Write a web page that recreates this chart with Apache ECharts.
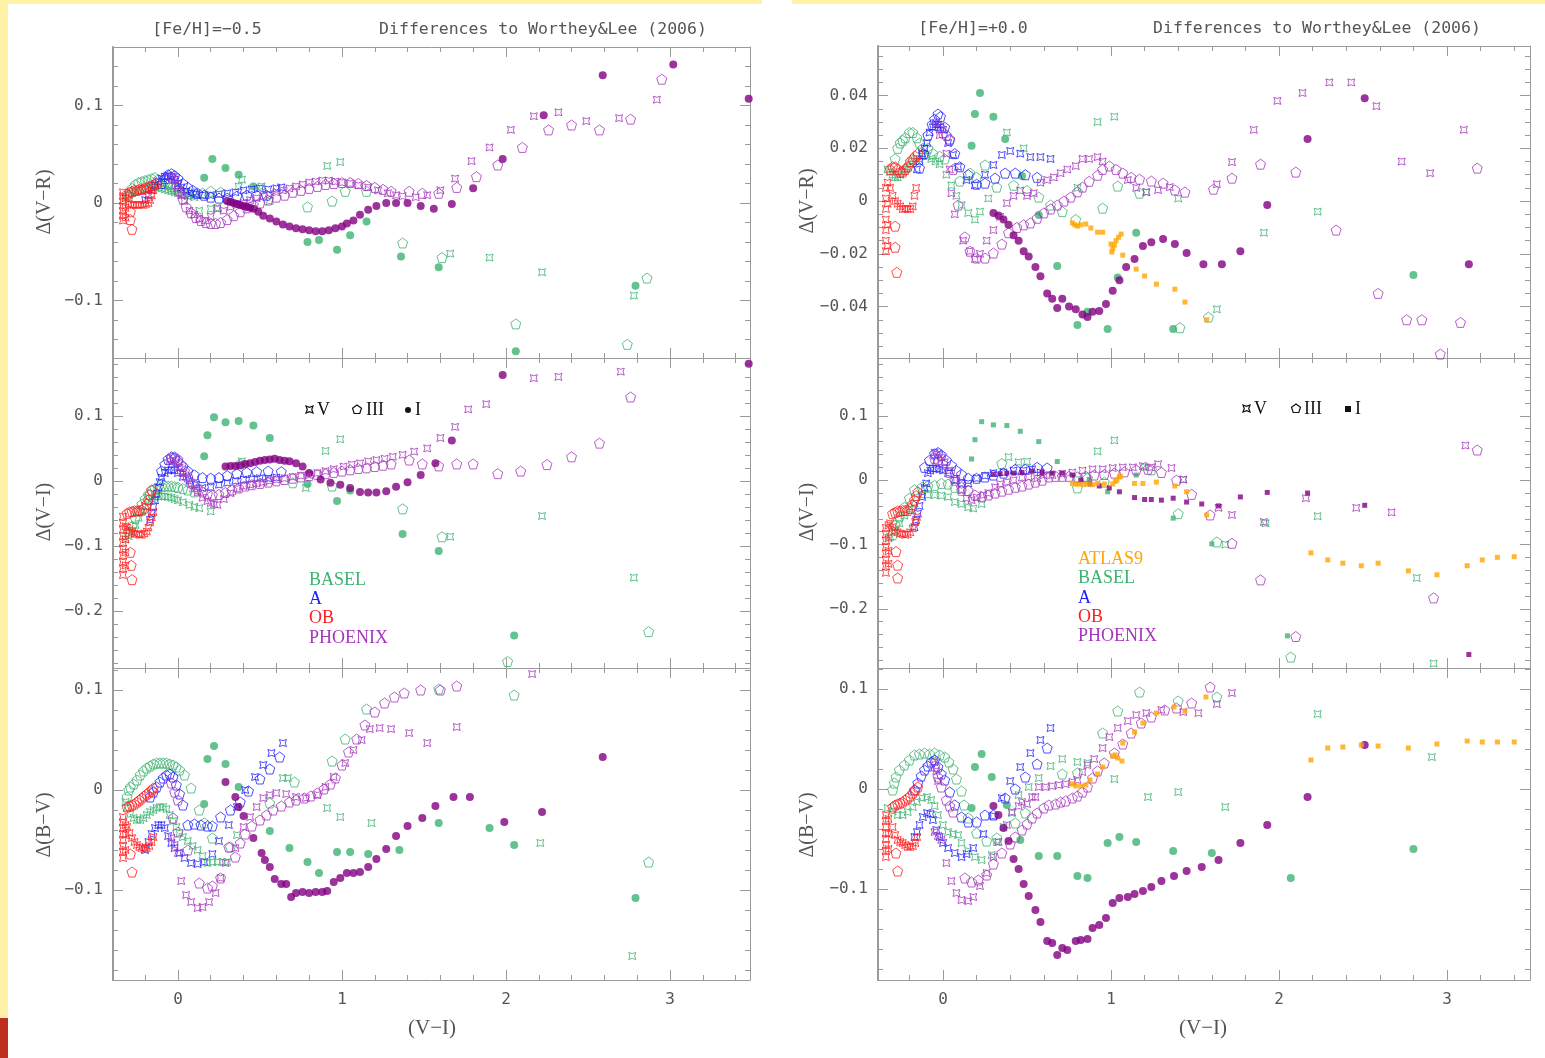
<!DOCTYPE html>
<html><head><meta charset="utf-8">
<script src="https://cdn.jsdelivr.net/npm/echarts@6/dist/echarts.min.js"></script>
<style>html,body{margin:0;padding:0;background:#fff}#c{width:1545px;height:1058px}</style>
</head><body><div id="c"></div>
<script>
// ===== DATA (x = V-I, y = difference) =====
// Panel 1: [Fe/H]=-0.5, Δ(V-R)
const P1_OB_V=[[-0.335,-0.018],[-0.335,-0.013],[-0.335,-0.008],[-0.335,-0.003],[-0.335,0.002],[-0.335,0.007],[-0.335,0.011],[-0.32,-0.015],[-0.32,-0.005],[-0.32,0.005],[-0.30,-0.001],[-0.285,-0.002],[-0.27,-0.002],[-0.255,-0.002],[-0.24,-0.002],[-0.225,-0.002],[-0.21,-0.002],[-0.195,-0.001],[-0.18,0.0],[-0.17,0.003],[-0.16,0.008],[-0.15,0.013]];
const P1_OB_III=[[-0.31,0.009],[-0.295,0.011],[-0.28,0.012],[-0.265,0.013],[-0.25,0.013],[-0.235,0.014],[-0.22,0.014],[-0.205,0.015],[-0.19,0.016],[-0.175,0.017],[-0.16,0.018],[-0.145,0.019],[-0.13,0.02],[-0.29,-0.009],[-0.29,-0.017],[-0.28,-0.027]];
const P1_A_V=[[-0.2,0.003],[-0.18,0.008],[-0.16,0.013],[-0.14,0.018],[-0.12,0.022],[-0.1,0.025],[-0.08,0.027],[-0.06,0.028],[-0.04,0.027],[-0.02,0.024],[0.0,0.02],[0.02,0.016],[0.05,0.012],[0.08,0.01],[0.11,0.009],[0.15,0.008],[0.2,0.008],[0.25,0.009],[0.3,0.01],[0.35,0.011],[0.4,0.013],[0.45,0.014],[0.5,0.015],[0.55,0.014],[0.6,0.015],[0.63,0.016]];
const P1_A_III=[[-0.1,0.02],[-0.08,0.025],[-0.06,0.029],[-0.04,0.03],[-0.02,0.028],[0.0,0.025],[0.03,0.02],[0.06,0.016],[0.09,0.013],[0.12,0.01],[0.16,0.008],[0.2,0.006],[0.25,0.005],[0.3,0.005],[0.36,0.007],[0.42,0.008],[0.48,0.008],[0.54,0.008]];
const P1_BA_III=[[-0.3,0.008],[-0.28,0.015],[-0.26,0.019],[-0.24,0.021],[-0.22,0.022],[-0.2,0.023],[-0.18,0.024],[-0.16,0.025],[-0.14,0.026],[-0.12,0.024],[-0.1,0.022],[-0.08,0.02],[-0.06,0.019],[-0.04,0.017],[-0.02,0.015],[0.0,0.013],[0.03,0.011],[0.06,0.01],[0.1,0.01],[0.15,0.01],[0.2,0.012],[0.26,0.011],[0.79,-0.004],[0.94,0.002],[1.02,0.012],[1.15,0.012],[1.37,-0.041],[1.61,-0.056],[2.06,-0.124],[2.74,-0.145],[2.86,-0.077]];
const P1_BA_V=[[-0.32,0.005],[-0.3,0.008],[-0.28,0.01],[-0.26,0.012],[-0.24,0.013],[-0.22,0.013],[-0.2,0.014],[-0.18,0.015],[-0.16,0.016],[-0.14,0.016],[-0.12,0.016],[-0.1,0.015],[-0.08,0.014],[-0.06,0.013],[-0.04,0.012],[-0.02,0.011],[0.0,0.01],[0.03,0.008],[0.06,0.007],[0.1,0.006],[0.13,-0.008],[0.2,-0.006],[0.24,-0.005],[0.37,0.017],[0.39,0.024],[0.51,0.017],[0.56,0.002],[0.91,0.038],[0.99,0.042],[1.66,-0.052],[1.90,-0.056],[2.22,-0.071],[2.78,-0.095]];
const P1_BA_I=[[0.16,0.026],[0.21,0.045],[0.29,0.036],[0.37,0.029],[0.46,0.017],[0.79,-0.04],[0.86,-0.038],[0.97,-0.048],[1.05,-0.033],[1.15,-0.019],[1.36,-0.055],[1.59,-0.066],[2.06,-0.152],[2.79,-0.085]];
const P1_PH_V=[[-0.04,0.027],[-0.02,0.024],[0.0,0.015],[0.02,0.008],[0.04,0.002],[0.07,-0.008],[0.1,-0.012],[0.13,-0.016],[0.17,-0.018],[0.2,-0.014],[0.24,-0.006],[0.28,-0.008],[0.32,-0.004],[0.36,-0.002],[0.4,0.0],[0.44,0.003],[0.48,0.005],[0.52,0.007],[0.56,0.009],[0.6,0.011],[0.64,0.013],[0.68,0.015],[0.72,0.017],[0.76,0.019],[0.8,0.021],[0.84,0.022],[0.88,0.023],[0.92,0.023],[0.96,0.022],[1.0,0.021],[1.05,0.02],[1.1,0.018],[1.16,0.016],[1.22,0.013],[1.28,0.01],[1.33,0.008],[1.37,0.007],[1.45,0.006],[1.52,0.008],[1.60,0.013],[1.69,0.025],[1.79,0.043],[1.90,0.057],[2.03,0.075],[2.17,0.089],[2.32,0.093],[2.49,0.084],[2.69,0.087],[2.92,0.106]];
const P1_PH_III=[[-0.03,0.025],[-0.01,0.02],[0.01,0.012],[0.03,0.004],[0.05,-0.004],[0.08,-0.01],[0.11,-0.015],[0.14,-0.018],[0.17,-0.02],[0.2,-0.021],[0.23,-0.021],[0.26,-0.02],[0.3,-0.017],[0.34,-0.013],[0.38,-0.009],[0.42,-0.005],[0.46,-0.002],[0.5,0.0],[0.55,0.003],[0.6,0.006],[0.65,0.008],[0.7,0.011],[0.75,0.013],[0.8,0.015],[0.85,0.017],[0.9,0.019],[0.95,0.02],[1.0,0.021],[1.05,0.021],[1.1,0.02],[1.15,0.018],[1.2,0.016],[1.25,0.014],[1.3,0.012],[1.41,0.012],[1.49,0.010],[1.59,0.010],[1.70,0.016],[1.82,0.027],[1.95,0.039],[2.10,0.057],[2.26,0.075],[2.40,0.080],[2.57,0.075],[2.76,0.086],[2.95,0.127]];
const P1_PH_I=[[0.30,0.002],[0.32,0.001],[0.34,0.0],[0.36,-0.001],[0.38,-0.002],[0.40,-0.003],[0.42,-0.004],[0.44,-0.005],[0.46,-0.006],[0.49,-0.009],[0.52,-0.013],[0.56,-0.016],[0.6,-0.019],[0.64,-0.022],[0.68,-0.024],[0.72,-0.026],[0.76,-0.027],[0.8,-0.028],[0.84,-0.029],[0.88,-0.029],[0.92,-0.028],[0.96,-0.026],[1.0,-0.024],[1.03,-0.021],[1.07,-0.018],[1.11,-0.012],[1.16,-0.007],[1.21,-0.003],[1.27,0.0],[1.33,0.0],[1.40,0.0],[1.48,-0.003],[1.56,-0.006],[1.67,-0.001],[1.80,0.015],[1.98,0.045],[2.23,0.09],[2.59,0.131],[3.02,0.142],[3.48,0.107]];

// Panel 2: [Fe/H]=-0.5, Δ(V-I)
const P2_OB_V=[[-0.335,-0.145],[-0.335,-0.135],[-0.335,-0.125],[-0.335,-0.115],[-0.335,-0.105],[-0.335,-0.095],[-0.335,-0.085],[-0.335,-0.075],[-0.335,-0.065],[-0.335,-0.055],[-0.32,-0.13],[-0.32,-0.11],[-0.32,-0.09],[-0.32,-0.07],[-0.31,-0.072],[-0.295,-0.076],[-0.28,-0.079],[-0.265,-0.081],[-0.25,-0.082],[-0.235,-0.083],[-0.22,-0.083],[-0.205,-0.081],[-0.19,-0.078],[-0.18,-0.072],[-0.17,-0.064],[-0.16,-0.056],[-0.15,-0.048]];
const P2_OB_III=[[-0.31,-0.05],[-0.295,-0.048],[-0.28,-0.047],[-0.265,-0.046],[-0.25,-0.046],[-0.235,-0.046],[-0.22,-0.045],[-0.205,-0.042],[-0.19,-0.036],[-0.18,-0.029],[-0.17,-0.021],[-0.16,-0.014],[-0.29,-0.11],[-0.285,-0.13],[-0.28,-0.152]];
const P2_A_V=[[-0.17,-0.06],[-0.16,-0.05],[-0.15,-0.04],[-0.14,-0.03],[-0.13,-0.02],[-0.12,-0.01],[-0.11,-0.002],[-0.1,0.005],[-0.08,0.012],[-0.06,0.016],[-0.04,0.017],[-0.02,0.016],[0.0,0.012],[0.03,0.006],[0.07,0.0],[0.11,-0.006],[0.15,-0.011],[0.2,-0.01],[0.25,-0.006],[0.3,-0.003],[0.35,0.0],[0.4,0.002],[0.45,0.003],[0.5,0.004],[0.55,0.004],[0.6,0.005]];
const P2_A_III=[[-0.1,0.015],[-0.08,0.025],[-0.06,0.033],[-0.04,0.037],[-0.02,0.035],[0.0,0.03],[0.03,0.022],[0.06,0.015],[0.1,0.009],[0.15,0.005],[0.2,0.004],[0.25,0.005],[0.3,0.008],[0.36,0.011],[0.42,0.013],[0.48,0.014],[0.55,0.015],[0.63,0.014]];
const P2_BA_III=[[-0.3,-0.08],[-0.28,-0.07],[-0.26,-0.058],[-0.24,-0.046],[-0.22,-0.036],[-0.2,-0.028],[-0.18,-0.021],[-0.16,-0.015],[-0.14,-0.012],[-0.12,-0.01],[-0.1,-0.009],[-0.08,-0.008],[-0.06,-0.008],[-0.04,-0.008],[-0.02,-0.009],[0.0,-0.01],[0.03,-0.012],[0.06,-0.014],[0.1,-0.017],[0.38,0.026],[0.70,-0.003],[0.94,-0.008],[1.37,-0.043],[1.61,-0.086],[2.01,-0.278],[2.87,-0.232]];
const P2_BA_V=[[-0.32,-0.09],[-0.3,-0.085],[-0.28,-0.078],[-0.26,-0.068],[-0.24,-0.057],[-0.22,-0.047],[-0.2,-0.039],[-0.18,-0.032],[-0.16,-0.027],[-0.14,-0.025],[-0.12,-0.024],[-0.1,-0.024],[-0.08,-0.024],[-0.06,-0.025],[-0.04,-0.026],[-0.02,-0.028],[0.0,-0.03],[0.03,-0.033],[0.07,-0.037],[0.1,-0.04],[0.13,-0.042],[0.2,-0.047],[0.39,0.03],[0.78,-0.011],[0.90,0.046],[0.99,0.064],[1.66,-0.086],[2.22,-0.054],[2.78,-0.149]];
const P2_BA_I=[[0.16,0.038],[0.18,0.07],[0.22,0.098],[0.29,0.09],[0.37,0.092],[0.46,0.085],[0.56,0.066],[0.79,-0.005],[0.97,-0.031],[1.05,-0.015],[1.37,-0.082],[1.59,-0.108],[2.05,-0.238]];
const P2_PH_V=[[-0.05,0.03],[-0.03,0.032],[-0.01,0.028],[0.01,0.02],[0.03,0.012],[0.05,0.006],[0.08,-0.005],[0.1,-0.012],[0.12,-0.018],[0.15,-0.026],[0.18,-0.031],[0.2,-0.034],[0.22,-0.036],[0.24,-0.037],[0.28,-0.028],[0.32,-0.019],[0.36,-0.012],[0.4,-0.008],[0.44,-0.006],[0.48,-0.004],[0.52,-0.002],[0.56,0.0],[0.6,0.002],[0.65,0.004],[0.7,0.006],[0.75,0.008],[0.8,0.009],[0.85,0.012],[0.9,0.015],[0.95,0.018],[1.01,0.022],[1.06,0.025],[1.11,0.027],[1.16,0.03],[1.21,0.032],[1.26,0.034],[1.31,0.037],[1.37,0.04],[1.44,0.045],[1.52,0.05],[1.60,0.066],[1.69,0.083],[1.77,0.11],[1.88,0.118],[2.17,0.158],[2.32,0.16],[2.70,0.168]];
const P2_PH_III=[[-0.04,0.035],[-0.02,0.037],[0.0,0.033],[0.02,0.025],[0.04,0.015],[0.06,0.006],[0.09,-0.004],[0.12,-0.012],[0.15,-0.017],[0.18,-0.02],[0.21,-0.022],[0.25,-0.021],[0.29,-0.018],[0.33,-0.014],[0.37,-0.011],[0.41,-0.008],[0.45,-0.006],[0.5,-0.004],[0.55,-0.002],[0.6,0.0],[0.65,0.002],[0.7,0.004],[0.75,0.006],[0.8,0.008],[0.85,0.01],[0.9,0.011],[0.95,0.013],[1.0,0.015],[1.05,0.017],[1.1,0.019],[1.15,0.02],[1.2,0.022],[1.25,0.024],[1.3,0.026],[1.41,0.032],[1.49,0.026],[1.59,0.023],[1.70,0.026],[1.80,0.026],[1.95,0.011],[2.09,0.015],[2.25,0.025],[2.40,0.037],[2.57,0.058],[2.76,0.129]];
const P2_PH_I=[[0.29,0.022],[0.32,0.023],[0.35,0.023],[0.38,0.024],[0.41,0.026],[0.44,0.027],[0.47,0.029],[0.5,0.031],[0.53,0.032],[0.56,0.033],[0.59,0.034],[0.62,0.032],[0.65,0.031],[0.68,0.03],[0.72,0.027],[0.76,0.022],[0.80,0.012],[0.87,0.002],[0.93,-0.003],[0.99,-0.006],[1.05,-0.011],[1.11,-0.017],[1.16,-0.018],[1.21,-0.018],[1.27,-0.016],[1.33,-0.009],[1.40,-0.002],[1.48,0.009],[1.57,0.027],[1.67,0.062],[1.98,0.163],[3.48,0.18]];

// Panel 3: [Fe/H]=-0.5, Δ(B-V)
const P3_OB_V=[[-0.335,-0.068],[-0.335,-0.062],[-0.335,-0.056],[-0.335,-0.05],[-0.335,-0.044],[-0.335,-0.038],[-0.335,-0.032],[-0.335,-0.027],[-0.32,-0.06],[-0.32,-0.045],[-0.32,-0.035],[-0.31,-0.037],[-0.295,-0.043],[-0.28,-0.048],[-0.265,-0.052],[-0.25,-0.055],[-0.235,-0.057],[-0.22,-0.058],[-0.205,-0.059],[-0.19,-0.058],[-0.175,-0.056],[-0.16,-0.052],[-0.15,-0.047]];
const P3_OB_III=[[-0.31,-0.017],[-0.295,-0.016],[-0.28,-0.015],[-0.265,-0.014],[-0.25,-0.012],[-0.235,-0.01],[-0.22,-0.008],[-0.205,-0.006],[-0.19,-0.004],[-0.175,-0.002],[-0.16,0.0],[-0.15,0.002],[-0.29,-0.064],[-0.28,-0.082]];
const P3_A_V=[[-0.2,-0.06],[-0.18,-0.052],[-0.16,-0.044],[-0.14,-0.038],[-0.12,-0.035],[-0.1,-0.035],[-0.08,-0.038],[-0.06,-0.046],[-0.04,-0.053],[-0.02,-0.058],[0.01,-0.063],[0.04,-0.068],[0.08,-0.073],[0.12,-0.074],[0.16,-0.072],[0.21,-0.064],[0.25,-0.051],[0.31,-0.035],[0.36,-0.017],[0.41,0.0],[0.47,0.013],[0.52,0.025],[0.57,0.037],[0.64,0.047]];
const P3_A_III=[[-0.17,-0.007],[-0.15,-0.002],[-0.13,0.003],[-0.11,0.008],[-0.09,0.012],[-0.07,0.015],[-0.05,0.016],[-0.03,0.013],[-0.01,0.005],[0.01,-0.004],[0.03,-0.015],[0.06,-0.035],[0.1,-0.034],[0.14,-0.035],[0.18,-0.036],[0.21,-0.036],[0.26,-0.027],[0.32,-0.02],[0.38,-0.012],[0.43,-0.001],[0.50,0.011],[0.56,0.021],[0.62,0.033]];
const P3_BA_III=[[-0.31,-0.007],[-0.3,0.0],[-0.29,0.003],[-0.27,0.006],[-0.25,0.01],[-0.23,0.015],[-0.21,0.019],[-0.19,0.022],[-0.17,0.024],[-0.15,0.026],[-0.13,0.027],[-0.11,0.027],[-0.09,0.027],[-0.07,0.027],[-0.05,0.026],[-0.03,0.025],[-0.01,0.023],[0.01,0.02],[0.04,0.015],[0.08,0.002],[0.13,-0.02],[0.16,-0.033],[0.21,-0.048],[0.32,-0.057],[0.56,-0.013],[0.71,0.008],[0.94,0.029],[1.02,0.051],[1.15,0.081],[1.59,0.101],[2.05,0.095],[2.87,-0.072]];
const P3_BA_V=[[-0.32,-0.012],[-0.31,-0.018],[-0.29,-0.024],[-0.27,-0.028],[-0.25,-0.03],[-0.23,-0.03],[-0.21,-0.028],[-0.19,-0.025],[-0.17,-0.022],[-0.15,-0.02],[-0.13,-0.018],[-0.11,-0.017],[-0.09,-0.017],[-0.07,-0.019],[-0.05,-0.025],[-0.03,-0.031],[-0.01,-0.037],[0.01,-0.043],[0.03,-0.047],[0.06,-0.051],[0.09,-0.056],[0.12,-0.06],[0.15,-0.066],[0.18,-0.073],[0.21,-0.072],[0.24,-0.072],[0.27,-0.072],[0.30,-0.072],[0.36,-0.045],[0.64,0.012],[0.67,0.012],[0.91,-0.018],[0.99,-0.027],[1.18,-0.033],[2.21,-0.053],[2.77,-0.166]];
const P3_BA_I=[[0.16,-0.014],[0.18,0.031],[0.22,0.044],[0.29,0.026],[0.37,0.003],[0.56,-0.041],[0.68,-0.058],[0.79,-0.072],[0.86,-0.083],[0.97,-0.062],[1.05,-0.062],[1.16,-0.064],[1.35,-0.06],[1.59,-0.033],[1.90,-0.038],[2.05,-0.055],[2.79,-0.108]];
const P3_PH_V=[[-0.04,-0.048],[-0.02,-0.055],[0.0,-0.063],[0.02,-0.091],[0.05,-0.105],[0.08,-0.112],[0.12,-0.118],[0.15,-0.117],[0.19,-0.112],[0.23,-0.103],[0.26,-0.088],[0.29,-0.073],[0.35,-0.058],[0.40,-0.037],[0.44,-0.027],[0.48,-0.017],[0.52,-0.008],[0.56,-0.005],[0.60,-0.003],[0.66,-0.004],[0.72,-0.007],[0.78,-0.008],[0.85,-0.005],[0.90,0.003],[0.95,0.013],[1.02,0.027],[1.07,0.04],[1.12,0.05],[1.17,0.061],[1.23,0.062],[1.30,0.061],[1.41,0.057],[1.52,0.047],[1.70,0.063],[2.16,0.116]];
const P3_PH_III=[[-0.04,0.007],[-0.02,-0.002],[0.0,-0.01],[-0.03,-0.028],[0.0,-0.042],[0.06,-0.06],[0.13,-0.093],[0.18,-0.098],[0.21,-0.096],[0.26,-0.088],[0.31,-0.057],[0.35,-0.067],[0.38,-0.053],[0.41,-0.044],[0.45,-0.036],[0.5,-0.03],[0.54,-0.025],[0.58,-0.02],[0.63,-0.016],[0.68,-0.012],[0.72,-0.01],[0.77,-0.008],[0.81,-0.006],[0.85,-0.003],[0.89,0.001],[0.93,0.006],[0.96,0.012],[1.0,0.025],[1.04,0.038],[1.09,0.051],[1.14,0.065],[1.2,0.078],[1.26,0.087],[1.32,0.093],[1.38,0.097],[1.48,0.1],[1.6,0.1],[1.70,0.104]];
const P3_PH_I=[[0.29,0.008],[0.35,-0.007],[0.37,-0.017],[0.40,-0.026],[0.46,-0.048],[0.51,-0.063],[0.53,-0.07],[0.56,-0.077],[0.59,-0.089],[0.63,-0.094],[0.66,-0.094],[0.69,-0.107],[0.72,-0.103],[0.76,-0.102],[0.80,-0.103],[0.84,-0.102],[0.88,-0.102],[0.91,-0.101],[0.95,-0.092],[0.99,-0.088],[1.03,-0.083],[1.07,-0.083],[1.11,-0.082],[1.16,-0.077],[1.21,-0.069],[1.27,-0.059],[1.33,-0.046],[1.40,-0.036],[1.49,-0.028],[1.57,-0.016],[1.68,-0.007],[1.78,-0.007],[1.99,-0.032],[2.22,-0.022],[2.59,0.033]];

// Panel 4: [Fe/H]=+0.0, Δ(V-R)
const P4_OB_V=[[-0.34,-0.019],[-0.34,-0.015],[-0.34,-0.011],[-0.34,-0.007],[-0.34,-0.003],[-0.34,0.001],[-0.34,0.005],[-0.33,-0.017],[-0.33,-0.009],[-0.33,-0.001],[-0.33,0.007],[-0.315,0.005],[-0.30,0.002],[-0.285,0.0],[-0.27,-0.001],[-0.255,-0.002],[-0.24,-0.003],[-0.225,-0.003],[-0.21,-0.003],[-0.195,-0.003],[-0.18,-0.002],[-0.17,0.002],[-0.16,0.005]];
const P4_OB_III=[[-0.315,0.012],[-0.30,0.013],[-0.285,0.013],[-0.27,0.012],[-0.255,0.011],[-0.24,0.011],[-0.225,0.012],[-0.21,0.013],[-0.195,0.015],[-0.18,0.016],[-0.165,0.017],[-0.15,0.018],[-0.285,-0.0095],[-0.285,-0.0175],[-0.275,-0.027]];
const P4_A_V=[[-0.155,0.012],[-0.14,0.015],[-0.125,0.018],[-0.11,0.02],[-0.095,0.022],[-0.08,0.026],[-0.06,0.028],[-0.045,0.029],[-0.03,0.029],[-0.015,0.028],[0.0,0.027],[0.03,0.022],[0.06,0.0175],[0.09,0.013],[0.14,0.008],[0.19,0.006],[0.25,0.01],[0.30,0.0137],[0.35,0.0175],[0.40,0.019],[0.46,0.018],[0.52,0.0167],[0.58,0.0167],[0.64,0.016]];
const P4_A_III=[[-0.14,0.0125],[-0.115,0.018],[-0.09,0.025],[-0.065,0.029],[-0.05,0.031],[-0.03,0.033],[-0.015,0.032],[0.01,0.028],[0.04,0.0235],[0.07,0.018],[0.10,0.013],[0.15,0.01],[0.2,0.0064],[0.25,0.0068],[0.31,0.0087],[0.37,0.0106],[0.43,0.0106],[0.49,0.01],[0.56,0.009]];
const P4_BA_III=[[-0.285,0.016],[-0.27,0.02],[-0.255,0.022],[-0.24,0.023],[-0.225,0.024],[-0.20,0.026],[-0.18,0.026],[-0.155,0.024],[-0.14,0.022],[-0.12,0.02],[-0.09,0.02],[-0.06,0.018],[-0.02,0.017],[0.01,0.016],[0.1,0.0076],[0.16,0.0106],[0.20,0.009],[0.25,0.0137],[0.32,0.0053],[0.42,0.006],[0.50,0.004],[0.57,0.0015],[0.64,-0.0015],[0.71,-0.004],[0.79,-0.007],[0.95,-0.0027],[1.04,0.0057],[1.17,0.003],[1.41,-0.048],[1.58,-0.044]];
const P4_BA_V=[[-0.33,0.012],[-0.315,0.011],[-0.30,0.01],[-0.285,0.009],[-0.27,0.009],[-0.255,0.01],[-0.24,0.011],[-0.225,0.012],[-0.21,0.013],[-0.195,0.014],[-0.18,0.015],[-0.16,0.016],[-0.14,0.016],[-0.12,0.017],[-0.095,0.017],[-0.07,0.016],[-0.045,0.015],[-0.02,0.014],[0.02,0.01],[0.05,0.006],[0.08,0.002],[0.11,-0.0015],[0.15,-0.0045],[0.19,-0.007],[0.22,-0.004],[0.27,0.001],[0.38,0.026],[0.48,0.02],[0.80,0.005],[0.92,0.030],[1.02,0.032],[1.21,0.0034],[1.40,0.001],[1.63,-0.041],[1.91,-0.012],[2.23,-0.004]];
const P4_BA_I=[[0.17,0.021],[0.19,0.033],[0.22,0.041],[0.30,0.032],[0.37,0.0235],[0.47,0.0095],[0.57,-0.0053],[0.68,-0.0246],[0.80,-0.047],[0.86,-0.042],[0.98,-0.0485],[1.04,-0.029],[1.15,-0.012],[1.37,-0.0485],[2.80,-0.028]];
const P4_PH_V=[[-0.04,0.0296],[-0.02,0.025],[0.02,0.018],[0.04,0.012],[0.05,0.003],[0.07,-0.005],[0.12,-0.015],[0.16,-0.019],[0.19,-0.022],[0.22,-0.02],[0.26,-0.015],[0.30,-0.011],[0.34,-0.006],[0.38,-0.0008],[0.42,0.002],[0.46,0.004],[0.50,0.002],[0.54,0.003],[0.58,0.007],[0.62,0.008],[0.66,0.009],[0.70,0.0106],[0.74,0.012],[0.79,0.0133],[0.83,0.016],[0.87,0.016],[0.92,0.0167],[0.95,0.015],[1.10,0.008],[1.15,0.005],[1.21,0.0034],[1.28,0.0042],[1.35,0.0053],[1.63,0.0064],[1.72,0.0148],[1.85,0.027],[1.99,0.038],[2.14,0.041],[2.30,0.045],[2.43,0.045],[2.58,0.036],[2.73,0.015],[2.90,0.0106],[3.10,0.027]];
const P4_PH_III=[[-0.02,0.028],[0.0,0.026],[0.02,0.025],[0.04,0.023],[0.06,0.012],[0.09,-0.0015],[0.13,-0.0136],[0.16,-0.019],[0.2,-0.0216],[0.25,-0.0216],[0.30,-0.0197],[0.35,-0.0163],[0.39,-0.012],[0.44,-0.01],[0.48,-0.009],[0.52,-0.0083],[0.56,-0.0065],[0.60,-0.0045],[0.64,-0.003],[0.68,-0.0015],[0.72,0.0],[0.76,0.0015],[0.80,0.0035],[0.83,0.0053],[0.87,0.0075],[0.92,0.0098],[0.95,0.012],[0.99,0.0133],[1.03,0.012],[1.07,0.0106],[1.12,0.009],[1.17,0.0083],[1.24,0.0076],[1.31,0.0068],[1.38,0.0042],[1.44,0.0034],[1.61,0.0045],[1.72,0.0087],[1.89,0.014],[2.10,0.011],[2.34,-0.011],[2.59,-0.035],[2.76,-0.045],[2.85,-0.045],[2.96,-0.058],[3.08,-0.046],[3.18,0.0125]];
const P4_PH_I=[[0.30,-0.0045],[0.33,-0.0055],[0.36,-0.007],[0.39,-0.009],[0.42,-0.013],[0.45,-0.015],[0.48,-0.019],[0.51,-0.021],[0.55,-0.025],[0.58,-0.0285],[0.62,-0.035],[0.65,-0.037],[0.68,-0.0405],[0.71,-0.037],[0.75,-0.04],[0.79,-0.041],[0.83,-0.043],[0.86,-0.044],[0.89,-0.042],[0.93,-0.0417],[0.97,-0.039],[1.01,-0.034],[1.05,-0.030],[1.09,-0.025],[1.14,-0.022],[1.19,-0.017],[1.24,-0.0156],[1.31,-0.0144],[1.38,-0.0163],[1.45,-0.0197],[1.55,-0.024],[1.66,-0.024],[1.77,-0.019],[1.93,-0.0015],[2.17,0.0235],[2.51,0.039],[3.13,-0.024]];
const P4_AT=[[0.77,-0.0083],[0.785,-0.009],[0.80,-0.0095],[0.82,-0.009],[0.85,-0.0087],[0.88,-0.0102],[0.92,-0.0118],[0.95,-0.0118],[1.0,-0.0163],[1.005,-0.0193],[1.01,-0.018],[1.02,-0.0167],[1.03,-0.015],[1.045,-0.0137],[1.06,-0.0125],[1.07,-0.0205],[1.15,-0.0258],[1.20,-0.0284],[1.27,-0.0315],[1.38,-0.0334],[1.44,-0.0383],[1.57,-0.045]];

// Panel 5: [Fe/H]=+0.0, Δ(V-I)
const P5_OB_V=[[-0.34,-0.144],[-0.34,-0.134],[-0.34,-0.124],[-0.34,-0.114],[-0.34,-0.104],[-0.34,-0.094],[-0.34,-0.084],[-0.34,-0.074],[-0.325,-0.13],[-0.325,-0.11],[-0.325,-0.09],[-0.325,-0.07],[-0.315,-0.067],[-0.30,-0.073],[-0.285,-0.078],[-0.27,-0.081],[-0.255,-0.083],[-0.24,-0.084],[-0.225,-0.085],[-0.21,-0.084],[-0.195,-0.081],[-0.18,-0.075],[-0.165,-0.065],[-0.155,-0.057]];
const P5_OB_III=[[-0.30,-0.052],[-0.285,-0.05],[-0.27,-0.048],[-0.255,-0.048],[-0.24,-0.047],[-0.225,-0.047],[-0.21,-0.047],[-0.195,-0.044],[-0.185,-0.038],[-0.17,-0.031],[-0.16,-0.024],[-0.15,-0.018],[-0.28,-0.111],[-0.27,-0.132],[-0.27,-0.152]];
const P5_A_V=[[-0.17,-0.073],[-0.16,-0.062],[-0.15,-0.052],[-0.14,-0.04],[-0.125,-0.026],[-0.11,-0.012],[-0.10,-0.005],[-0.09,0.011],[-0.075,0.015],[-0.06,0.018],[-0.04,0.018],[-0.02,0.017],[0.0,0.015],[0.03,0.011],[0.07,0.0],[0.11,-0.005],[0.15,-0.005],[0.20,0.003],[0.25,0.007],[0.30,0.011],[0.36,0.012],[0.42,0.015],[0.48,0.015],[0.53,0.017],[0.58,0.012]];
const P5_A_III=[[-0.11,0.02],[-0.08,0.031],[-0.05,0.041],[-0.03,0.043],[-0.01,0.039],[0.02,0.031],[0.05,0.023],[0.08,0.015],[0.11,0.009],[0.15,0.003],[0.20,0.003],[0.25,0.005],[0.30,0.008],[0.36,0.011],[0.43,0.017],[0.49,0.017],[0.56,0.02],[0.62,0.019]];
const P5_BA_III=[[-0.30,-0.085],[-0.285,-0.07],[-0.26,-0.057],[-0.23,-0.042],[-0.20,-0.028],[-0.17,-0.015],[-0.125,-0.011],[-0.09,-0.009],[-0.05,-0.008],[-0.01,-0.005],[0.03,-0.006],[0.07,-0.011],[0.11,-0.016],[0.35,0.026],[0.80,-0.012],[0.86,0.003],[0.96,-0.003],[1.24,0.016],[1.40,-0.052],[1.63,-0.096],[2.07,-0.275]];
const P5_BA_V=[[-0.315,-0.088],[-0.29,-0.08],[-0.26,-0.067],[-0.23,-0.055],[-0.2,-0.045],[-0.17,-0.036],[-0.125,-0.023],[-0.09,-0.023],[-0.05,-0.023],[-0.01,-0.024],[0.03,-0.026],[0.07,-0.034],[0.11,-0.037],[0.15,-0.042],[0.18,-0.044],[0.23,-0.037],[0.39,0.036],[0.45,0.028],[0.50,0.029],[0.80,0.001],[0.92,0.045],[1.02,0.062],[1.20,0.02],[1.43,0.001],[1.68,-0.1],[1.92,-0.067],[2.23,-0.056],[2.82,-0.152],[2.92,-0.285]];
const P5_BA_I=[[0.17,0.033],[0.19,0.063],[0.23,0.091],[0.30,0.086],[0.38,0.085],[0.46,0.076],[0.57,0.06],[0.68,0.029],[0.87,0.0015],[0.98,-0.018],[1.15,0.008],[1.37,-0.059],[1.60,-0.099],[2.05,-0.242]];
const P5_PH_V=[[-0.05,0.043],[-0.03,0.04],[-0.01,0.035],[0.01,0.028],[0.04,0.015],[0.08,0.0],[0.11,-0.016],[0.14,-0.028],[0.17,-0.031],[0.20,-0.027],[0.24,-0.023],[0.27,-0.02],[0.31,-0.011],[0.34,-0.006],[0.38,-0.003],[0.42,0.0],[0.47,0.004],[0.51,0.005],[0.56,0.003],[0.60,0.008],[0.65,0.008],[0.71,0.01],[0.77,0.012],[0.83,0.015],[0.89,0.017],[0.95,0.017],[1.01,0.019],[1.07,0.02],[1.13,0.02],[1.19,0.022],[1.24,0.02],[1.28,0.025],[1.36,0.019],[1.43,0.001],[1.64,-0.043],[1.72,-0.054],[1.91,-0.065],[2.16,-0.028],[2.46,-0.043],[2.67,-0.05],[3.11,0.054]];
const P5_PH_III=[[-0.05,0.034],[-0.03,0.032],[0.0,0.025],[0.04,0.012],[0.07,0.0],[0.11,-0.011],[0.15,-0.016],[0.19,-0.023],[0.23,-0.026],[0.27,-0.023],[0.31,-0.02],[0.35,-0.017],[0.39,-0.014],[0.43,-0.011],[0.47,-0.009],[0.51,-0.006],[0.55,-0.003],[0.59,0.0],[0.63,0.005],[0.67,0.006],[0.71,0.006],[0.75,0.006],[0.80,0.005],[0.85,0.006],[0.90,0.008],[0.96,0.009],[1.02,0.011],[1.08,0.013],[1.15,0.016],[1.22,0.017],[1.30,0.012],[1.39,0.0],[1.48,-0.022],[1.59,-0.054],[1.72,-0.098],[1.89,-0.155],[2.10,-0.243],[2.92,-0.183],[3.18,0.047]];
const P5_PH_I=[[0.30,0.009],[0.34,0.01],[0.38,0.011],[0.42,0.011],[0.47,0.012],[0.53,0.014],[0.59,0.012],[0.65,0.011],[0.71,0.011],[0.77,0.008],[0.82,0.0],[0.875,-0.006],[0.93,-0.009],[0.99,-0.012],[1.05,-0.018],[1.14,-0.027],[1.20,-0.03],[1.24,-0.03],[1.30,-0.031],[1.37,-0.028],[1.45,-0.034],[1.54,-0.037],[1.64,-0.040],[1.77,-0.026],[1.93,-0.019],[2.17,-0.02],[2.51,-0.039],[3.13,-0.271]];
const P5_AT=[[0.77,-0.005],[0.79,-0.006],[0.81,-0.006],[0.835,-0.007],[0.86,-0.006],[0.89,-0.007],[0.92,-0.005],[0.96,-0.006],[1.01,-0.006],[1.025,-0.002],[1.035,0.0],[1.05,0.005],[1.055,0.006],[1.14,-0.005],[1.19,-0.005],[1.27,-0.003],[1.38,-0.009],[1.45,-0.018],[1.57,-0.054],[2.19,-0.113],[2.29,-0.124],[2.38,-0.129],[2.49,-0.133],[2.59,-0.129],[2.77,-0.141],[2.94,-0.147],[3.12,-0.133],[3.21,-0.124],[3.30,-0.12],[3.40,-0.119]];

// Panel 6: [Fe/H]=+0.0, Δ(B-V)
const P6_OB_V=[[-0.34,-0.068],[-0.34,-0.062],[-0.34,-0.056],[-0.34,-0.05],[-0.34,-0.044],[-0.34,-0.038],[-0.34,-0.032],[-0.34,-0.026],[-0.325,-0.06],[-0.325,-0.045],[-0.325,-0.03],[-0.30,-0.038],[-0.285,-0.046],[-0.27,-0.051],[-0.255,-0.053],[-0.24,-0.054],[-0.225,-0.056],[-0.21,-0.058],[-0.195,-0.058],[-0.18,-0.057],[-0.165,-0.054],[-0.155,-0.048]];
const P6_OB_III=[[-0.30,-0.018],[-0.285,-0.016],[-0.27,-0.015],[-0.255,-0.014],[-0.24,-0.013],[-0.225,-0.011],[-0.21,-0.009],[-0.195,-0.007],[-0.18,-0.004],[-0.165,-0.001],[-0.15,0.002],[-0.28,-0.064],[-0.27,-0.082]];
const P6_A_V=[[-0.17,-0.048],[-0.155,-0.043],[-0.14,-0.036],[-0.12,-0.028],[-0.095,-0.024],[-0.075,-0.025],[-0.06,-0.031],[-0.04,-0.041],[-0.02,-0.048],[0.0,-0.054],[0.03,-0.059],[0.07,-0.064],[0.11,-0.068],[0.14,-0.065],[0.18,-0.059],[0.24,-0.045],[0.30,-0.027],[0.35,-0.009],[0.40,0.008],[0.46,0.022],[0.52,0.036],[0.58,0.049],[0.64,0.061]];
const P6_A_III=[[-0.17,-0.001],[-0.15,0.006],[-0.13,0.013],[-0.11,0.019],[-0.09,0.023],[-0.07,0.027],[-0.05,0.029],[-0.03,0.022],[-0.01,0.015],[0.01,0.009],[0.04,-0.003],[0.07,-0.016],[0.11,-0.028],[0.15,-0.033],[0.20,-0.033],[0.25,-0.026],[0.30,-0.026],[0.37,-0.009],[0.43,0.0],[0.49,0.012],[0.56,0.025],[0.62,0.041]];
const P6_BA_III=[[-0.30,-0.001],[-0.29,0.006],[-0.28,0.012],[-0.26,0.019],[-0.23,0.024],[-0.20,0.029],[-0.17,0.034],[-0.14,0.035],[-0.11,0.036],[-0.08,0.035],[-0.05,0.036],[-0.02,0.034],[0.01,0.032],[0.035,0.027],[0.06,0.02],[0.08,0.01],[0.11,-0.002],[0.125,-0.016],[0.15,-0.029],[0.20,-0.044],[0.26,-0.052],[0.32,-0.049],[0.43,-0.034],[0.49,-0.024],[0.71,0.015],[0.80,0.016],[0.95,0.056],[1.04,0.078],[1.17,0.097],[1.40,0.088],[1.63,0.092]];
const P6_BA_V=[[-0.33,-0.019],[-0.30,-0.022],[-0.27,-0.026],[-0.24,-0.026],[-0.21,-0.023],[-0.18,-0.018],[-0.155,-0.013],[-0.125,-0.009],[-0.095,-0.008],[-0.07,-0.011],[-0.05,-0.017],[-0.03,-0.026],[0.0,-0.036],[0.03,-0.043],[0.06,-0.045],[0.09,-0.046],[0.11,-0.054],[0.15,-0.062],[0.19,-0.068],[0.23,-0.071],[0.29,-0.066],[0.32,-0.053],[0.36,-0.038],[0.41,-0.024],[0.45,-0.006],[0.51,0.002],[0.57,0.011],[0.64,0.023],[0.71,0.03],[0.80,0.027],[0.86,0.026],[1.02,0.01],[1.22,-0.008],[1.40,-0.003],[1.68,-0.018],[2.23,0.075],[2.91,0.032]];
const P6_BA_I=[[0.17,-0.019],[0.19,0.022],[0.23,0.035],[0.29,0.012],[0.38,-0.016],[0.46,-0.051],[0.57,-0.067],[0.68,-0.067],[0.80,-0.087],[0.86,-0.089],[0.98,-0.054],[1.05,-0.048],[1.15,-0.053],[1.37,-0.062],[1.60,-0.064],[2.07,-0.089],[2.80,-0.06]];
const P6_PH_V=[[-0.05,0.027],[-0.04,0.018],[-0.03,0.008],[-0.05,-0.043],[-0.03,-0.047],[-0.01,-0.051],[0.02,-0.074],[0.05,-0.092],[0.08,-0.104],[0.11,-0.111],[0.15,-0.112],[0.18,-0.108],[0.22,-0.097],[0.26,-0.084],[0.30,-0.068],[0.33,-0.053],[0.38,-0.036],[0.41,-0.023],[0.45,-0.017],[0.47,-0.013],[0.50,-0.015],[0.53,-0.008],[0.55,-0.008],[0.57,0.002],[0.61,0.002],[0.65,0.003],[0.69,0.004],[0.73,0.005],[0.77,0.007],[0.80,0.009],[0.83,0.017],[0.86,0.024],[0.90,0.03],[0.95,0.041],[0.99,0.052],[1.04,0.061],[1.10,0.068],[1.15,0.074],[1.21,0.076],[1.30,0.079],[1.43,0.077],[1.52,0.076],[1.63,0.085],[1.72,0.096]];
const P6_PH_III=[[-0.05,0.023],[-0.03,0.012],[-0.01,0.002],[0.02,-0.011],[0.04,-0.017],[0.06,-0.023],[0.13,-0.089],[0.17,-0.093],[0.21,-0.091],[0.26,-0.086],[0.30,-0.075],[0.35,-0.064],[0.40,-0.055],[0.43,-0.048],[0.47,-0.041],[0.50,-0.035],[0.53,-0.029],[0.56,-0.024],[0.60,-0.019],[0.63,-0.016],[0.67,-0.015],[0.70,-0.013],[0.73,-0.012],[0.77,-0.009],[0.80,-0.007],[0.83,-0.003],[0.86,0.002],[0.89,0.011],[0.92,0.018],[0.96,0.026],[1.02,0.036],[1.07,0.045],[1.12,0.056],[1.18,0.066],[1.24,0.072],[1.32,0.079],[1.39,0.081],[1.48,0.086],[1.59,0.102]];
const P6_PH_I=[[0.30,-0.017],[0.33,-0.026],[0.36,-0.039],[0.39,-0.052],[0.42,-0.07],[0.45,-0.08],[0.48,-0.095],[0.51,-0.107],[0.55,-0.121],[0.58,-0.133],[0.62,-0.152],[0.65,-0.154],[0.68,-0.166],[0.71,-0.159],[0.74,-0.161],[0.79,-0.152],[0.82,-0.151],[0.86,-0.15],[0.89,-0.139],[0.93,-0.136],[0.97,-0.129],[1.01,-0.114],[1.05,-0.109],[1.10,-0.108],[1.14,-0.105],[1.19,-0.102],[1.24,-0.098],[1.30,-0.092],[1.375,-0.087],[1.45,-0.082],[1.54,-0.078],[1.64,-0.071],[1.77,-0.054],[1.93,-0.036],[2.17,-0.008],[2.51,0.044]];
const P6_AT=[[0.77,0.005],[0.79,0.003],[0.82,0.003],[0.85,0.004],[0.875,0.009],[0.92,0.015],[0.95,0.022],[1.01,0.033],[1.025,0.034],[1.04,0.031],[1.065,0.028],[1.07,0.046],[1.14,0.057],[1.19,0.066],[1.27,0.076],[1.375,0.082],[1.44,0.078],[1.565,0.092],[2.19,0.029],[2.29,0.041],[2.38,0.042],[2.49,0.044],[2.59,0.043],[2.77,0.041],[2.94,0.045],[3.12,0.048],[3.21,0.047],[3.30,0.047],[3.40,0.047]];

// tick labels
const X_LABELS=[0,1,2,3];
const Y_LABELS_VR_L=[-0.1,0,0.1];
const Y_LABELS_VI=[-0.2,-0.1,0,0.1];
const Y_LABELS_BV=[-0.1,0,0.1];
const Y_LABELS_VR_R=[-0.04,-0.02,0,0.02,0.04];

// ===== LAYOUT =====
const GRIDS=[
 {left:113,top:47,width:637,height:311,x:[-0.396,3.488],y:[-0.159,0.16],maj:Y_LABELS_VR_L,step:0.02,lab:false},
 {left:113,top:358,width:637,height:310,x:[-0.396,3.488],y:[-0.288,0.189],maj:Y_LABELS_VI,step:0.02,lab:false},
 {left:113,top:668,width:637,height:312,x:[-0.396,3.488],y:[-0.19,0.122],maj:Y_LABELS_BV,step:0.02,lab:true},
 {left:878,top:46,width:652,height:312,x:[-0.387,3.494],y:[-0.0595,0.0588],maj:Y_LABELS_VR_R,step:0.005,lab:false},
 {left:878,top:358,width:652,height:310,x:[-0.387,3.494],y:[-0.292,0.190],maj:Y_LABELS_VI,step:0.02,lab:false},
 {left:878,top:668,width:652,height:312,x:[-0.387,3.494],y:[-0.191,0.121],maj:Y_LABELS_BV,step:0.02,lab:true}
];
function ticks(a,b,s){const r=[];for(let k=Math.ceil(a/s-1e-6);k<=Math.floor(b/s+1e-6);k++)r.push(+(k*s).toFixed(6));return r;}
const AXC='#9a9a9a', LBC='#555';
const fmt=v=>{if(Math.abs(v)<1e-9)return '0';return String(+v.toFixed(3)).replace('-','\u2212');};
const grid=[],xAxis=[],yAxis=[];
GRIDS.forEach((G,g)=>{
  grid.push({left:G.left,top:G.top,width:G.width,height:G.height,containLabel:false});
  const xt=ticks(G.x[0],G.x[1],0.2), yt=ticks(G.y[0],G.y[1],G.step);
  ['bottom','top'].forEach(pos=>{
    xAxis.push({gridIndex:g,type:'value',min:G.x[0],max:G.x[1],position:pos,
      axisLine:{show:true,onZero:false,lineStyle:{color:AXC,width:1}},
      axisTick:{show:true,inside:true,length:10,customValues:X_LABELS,lineStyle:{color:AXC}},
      axisLabel:{show:pos==='bottom'&&G.lab,customValues:X_LABELS,margin:12,color:LBC,fontFamily:'DejaVu Sans Mono',fontSize:16,formatter:fmt},
      splitLine:{show:false}});
    xAxis.push({gridIndex:g,type:'value',min:G.x[0],max:G.x[1],position:pos,
      axisLine:{show:false,onZero:false},
      axisTick:{show:true,inside:true,length:5,customValues:xt,lineStyle:{color:AXC}},
      axisLabel:{show:false},splitLine:{show:false}});
  });
  ['left','right'].forEach(pos=>{
    yAxis.push({gridIndex:g,type:'value',min:G.y[0],max:G.y[1],position:pos,
      axisLine:{show:true,onZero:false,lineStyle:{color:AXC,width:pos==='left'?2:1}},
      axisTick:{show:true,inside:true,length:10,customValues:G.maj,lineStyle:{color:AXC}},
      axisLabel:{show:pos==='left',customValues:G.maj,margin:10,color:LBC,fontFamily:'DejaVu Sans Mono',fontSize:16,formatter:fmt},
      splitLine:{show:false}});
    yAxis.push({gridIndex:g,type:'value',min:G.y[0],max:G.y[1],position:pos,
      axisLine:{show:false,onZero:false},
      axisTick:{show:true,inside:true,length:5,customValues:yt,lineStyle:{color:AXC}},
      axisLabel:{show:false},splitLine:{show:false}});
  });
});

// ===== SERIES =====
const VPATH='path://M0,0 Q5,3.2 10,0 Q6.8,5 10,10 Q5,6.8 0,10 Q3.2,5 0,0 Z';
const PENT='path://M5,0 L10,3.6 L8.1,9.6 L1.9,9.6 L0,3.6 Z';
const COL={OB:'#ff1e1e',A:'#2020ff',BA:'#3cb371',PH:'#a535bd',PHI:'#820082',AT:'#ffa500'};
const series=[];
function sc(g,data,lib,cls){
  const c=(lib==='PH'&&cls==='I')?COL.PHI:COL[lib];
  let sym,size,st;
  if(cls==='V'){sym=VPATH;size=7;st={color:'rgba(255,255,255,0)',borderColor:c,borderWidth:1};}
  else if(cls==='III'){sym=PENT;size=10;st={color:'rgba(255,255,255,0)',borderColor:c,borderWidth:1};}
  else if(cls==='I'){sym=g===4?'rect':'circle';size=g===4?5:8;st={color:c};}
  else {sym='rect';size=5;st={color:c};}
  series.push({type:'scatter',xAxisIndex:4*g,yAxisIndex:4*g,data:data,symbol:sym,symbolSize:size,itemStyle:st,silent:true,animation:false,clip:true});
}
const PANELS=[
 [P1_BA_V,P1_BA_III,P1_BA_I,P1_A_V,P1_A_III,P1_OB_V,P1_OB_III,P1_PH_V,P1_PH_III,P1_PH_I,null],
 [P2_BA_V,P2_BA_III,P2_BA_I,P2_A_V,P2_A_III,P2_OB_V,P2_OB_III,P2_PH_V,P2_PH_III,P2_PH_I,null],
 [P3_BA_V,P3_BA_III,P3_BA_I,P3_A_V,P3_A_III,P3_OB_V,P3_OB_III,P3_PH_V,P3_PH_III,P3_PH_I,null],
 [P4_BA_V,P4_BA_III,P4_BA_I,P4_A_V,P4_A_III,P4_OB_V,P4_OB_III,P4_PH_V,P4_PH_III,P4_PH_I,P4_AT],
 [P5_BA_V,P5_BA_III,P5_BA_I,P5_A_V,P5_A_III,P5_OB_V,P5_OB_III,P5_PH_V,P5_PH_III,P5_PH_I,P5_AT],
 [P6_BA_V,P6_BA_III,P6_BA_I,P6_A_V,P6_A_III,P6_OB_V,P6_OB_III,P6_PH_V,P6_PH_III,P6_PH_I,P6_AT]
];
const KEYS=[['BA','V'],['BA','III'],['BA','I'],['A','V'],['A','III'],['OB','V'],['OB','III'],['PH','V'],['PH','III'],['PH','I'],['AT','AT']];
PANELS.forEach((arr,g)=>arr.forEach((d,i)=>{if(d)sc(g,d,KEYS[i][0],KEYS[i][1]);}));

// ===== TEXT / DECORATION =====
const SERIF='Liberation Serif', MONO='DejaVu Sans Mono';
function T(x,y,text,o){o=o||{};return {type:'text',x:x,y:y,rotation:o.rot||0,silent:true,z:10,
  style:{text:text,fill:o.c||'#555',font:(o.fs||18)+'px "'+(o.ff||SERIF)+'"',align:o.al||'center',verticalAlign:'middle'}};}
function VSYM(x,y){const s=7/10;const p=[[0,0],[5,1.8],[10,0],[8.2,5],[10,10],[5,8.2],[0,10],[1.8,5]].map(q=>[x+q[0]*s,y+q[1]*s]);
  return {type:'polygon',shape:{points:p},style:{fill:'none',stroke:'#111',lineWidth:1.2},silent:true,z:10};}
const graphic=[
 {type:'rect',shape:{x:0,y:0,width:8,height:1018},style:{fill:'#fff1a6'},silent:true,z:0},
 {type:'rect',shape:{x:0,y:1018,width:8,height:40},style:{fill:'#bf2f1e'},silent:true,z:0},
 {type:'rect',shape:{x:0,y:0,width:762,height:4},style:{fill:'#fff1a6'},silent:true,z:0},
 {type:'rect',shape:{x:792,y:0,width:753,height:4},style:{fill:'#fff1a6'},silent:true,z:0},
 T(207,30,'[Fe/H]=\u22120.5',{ff:MONO,fs:16.5}),
 T(543,30,'Differences to Worthey&Lee (2006)',{ff:MONO,fs:16.5}),
 T(973,29,'[Fe/H]=+0.0',{ff:MONO,fs:16.5}),
 T(1317,29,'Differences to Worthey&Lee (2006)',{ff:MONO,fs:16.5}),
 T(45,202,'\u0394(V\u2212R)',{rot:Math.PI/2,fs:20}),
 T(45,512,'\u0394(V\u2212I)',{rot:Math.PI/2,fs:20}),
 T(45,825,'\u0394(B\u2212V)',{rot:Math.PI/2,fs:20}),
 T(808,201,'\u0394(V\u2212R)',{rot:Math.PI/2,fs:20}),
 T(808,512,'\u0394(V\u2212I)',{rot:Math.PI/2,fs:20}),
 T(808,825,'\u0394(B\u2212V)',{rot:Math.PI/2,fs:20}),
 T(432,1028,'(V\u2212I)',{fs:21}),
 T(1203,1028,'(V\u2212I)',{fs:21}),
 T(309,580,'BASEL',{al:'left',c:COL.BA}),
 T(309,599,'A',{al:'left',c:COL.A}),
 T(309,618,'OB',{al:'left',c:COL.OB}),
 T(309,638,'PHOENIX',{al:'left',c:COL.PH}),
 T(1078,559,'ATLAS9',{al:'left',c:COL.AT}),
 T(1078,578,'BASEL',{al:'left',c:COL.BA}),
 T(1078,598,'A',{al:'left',c:COL.A}),
 T(1078,617,'OB',{al:'left',c:COL.OB}),
 T(1078,636,'PHOENIX',{al:'left',c:COL.PH}),
 VSYM(306,406),
 T(317,410,'V',{al:'left',c:'#111'}),
 {type:'polygon',shape:{points:[[357,405],[361.5,408.3],[359.8,413.5],[354.2,413.5],[352.5,408.3]]},style:{fill:'none',stroke:'#111',lineWidth:1.2},silent:true,z:10},
 T(366,410,'III',{al:'left',c:'#111'}),
 {type:'circle',shape:{cx:408,cy:410,r:3},style:{fill:'#111'},silent:true,z:10},
 T(415,410,'I',{al:'left',c:'#111'}),
 VSYM(1243,405),
 T(1254,409,'V',{al:'left',c:'#111'}),
 {type:'polygon',shape:{points:[[1296,404],[1300.5,407.3],[1298.8,412.5],[1293.2,412.5],[1291.5,407.3]]},style:{fill:'none',stroke:'#111',lineWidth:1.2},silent:true,z:10},
 T(1304,409,'III',{al:'left',c:'#111'}),
 {type:'rect',shape:{x:1345,y:406,width:6,height:6},style:{fill:'#111'},silent:true,z:10},
 T(1355,409,'I',{al:'left',c:'#111'})
];

const chart=echarts.init(document.getElementById('c'),null,{renderer:'canvas'});
chart.setOption({backgroundColor:'#fff',animation:false,grid,xAxis,yAxis,series,graphic});
</script></body></html>
